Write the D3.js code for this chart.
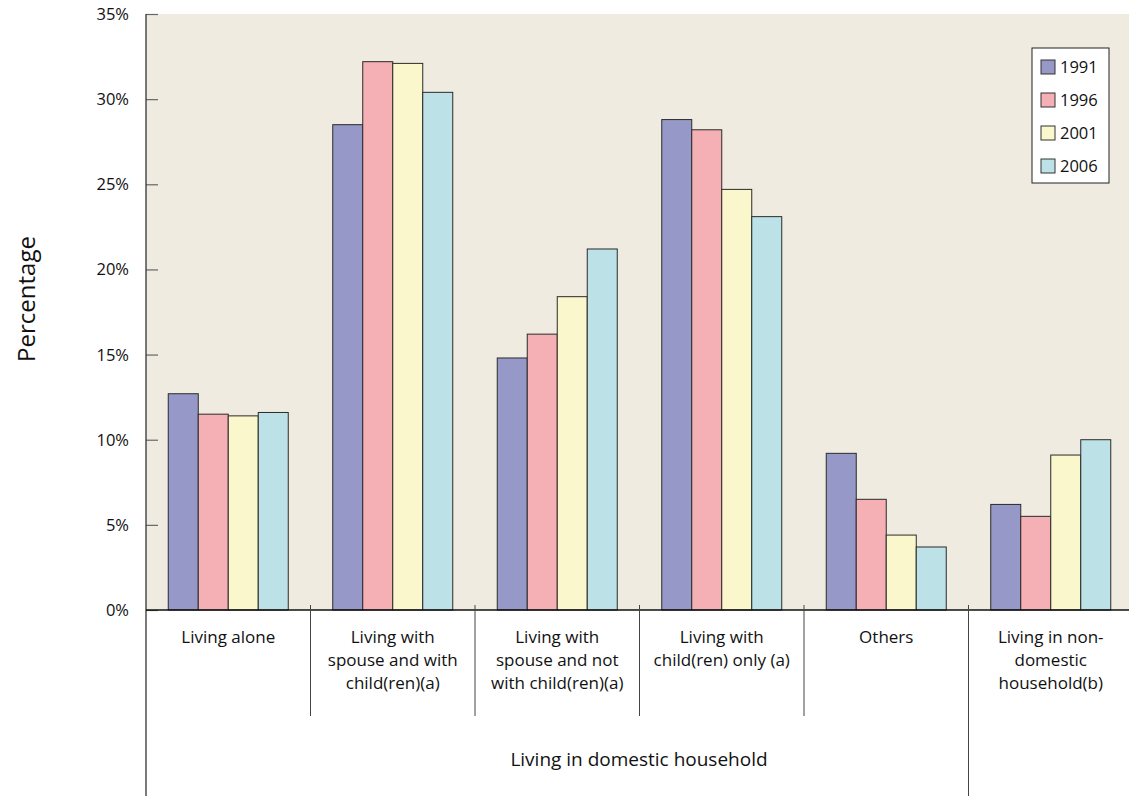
<!DOCTYPE html>
<html><head><meta charset="utf-8">
<script src="https://cdn.jsdelivr.net/npm/d3@7"></script>
<style>body{margin:0;background:#fff}svg{display:block;font-family:"Open Sans",sans-serif}</style>
</head><body><svg id="c" width="1129" height="796"></svg>
<script>
const categories = [
  ["Living alone"],
  ["Living with","spouse and with","child(ren)(a)"],
  ["Living with","spouse and not","with child(ren)(a)"],
  ["Living with","child(ren) only (a)"],
  ["Others"],
  ["Living in non-","domestic","household(b)"]
];
const years = ["1991","1996","2001","2006"];
const v1991 = [12.7, 28.5, 14.8, 28.8, 9.2, 6.2];
const v1996 = [11.5, 32.2, 16.2, 28.2, 6.5, 5.5];
const v2001 = [11.4, 32.1, 18.4, 24.7, 4.4, 9.1];
const v2006 = [11.6, 30.4, 21.2, 23.1, 3.7, 10.0];
const seriesValues = [v1991, v1996, v2001, v2006];
const colors = ["#9698c8","#f4b0b5","#f9f7cb","#bce1e7"];
const yTicks = [0,5,10,15,20,25,30,35];

const svg = d3.select("#c");
const L = 146, R = 1133, T = 14, B = 610;
const x0 = d3.scaleBand().domain(d3.range(categories.length)).range([L, R]).paddingInner(0).paddingOuter(0);
const innerW = 120;
const x1 = d3.scaleBand().domain(years).range([0, innerW]);
const y = d3.scaleLinear().domain([0,35]).range([B, T]);

svg.append("rect").attr("x", L).attr("y", T).attr("width", R-L).attr("height", B-T).attr("fill", "#efebe0");

// bars
categories.forEach((c, i) => {
  const gx = x0(i) + (x0.bandwidth() - innerW)/2;
  years.forEach((yr, j) => {
    const v = seriesValues[j][i];
    svg.append("rect")
      .attr("x", gx + x1(yr)).attr("y", y(v))
      .attr("width", x1.bandwidth()).attr("height", B - y(v))
      .attr("fill", colors[j]).attr("stroke", "#2a2a2a").attr("stroke-width", 1);
  });
});

// y axis
const yAxis = d3.axisRight(y).tickValues(yTicks).tickSize(12).tickFormat("");
const ya = svg.append("g").attr("transform", `translate(${L},0)`).call(yAxis);
ya.select(".domain").remove();
ya.selectAll("line").attr("stroke", "#666").attr("stroke-width", 1.2);
svg.append("g").selectAll("text").data(yTicks).join("text")
  .attr("x", 129).attr("y", d => y(d) + 6).attr("text-anchor", "end")
  .attr("font-size", 16.5).attr("fill", "#111").text(d => d + "%");

// axis lines
svg.append("line").attr("x1", L).attr("x2", L).attr("y1", T).attr("y2", 796).attr("stroke", "#333").attr("stroke-width", 1.3);
svg.append("line").attr("x1", L).attr("x2", 1129).attr("y1", B).attr("y2", B).attr("stroke", "#111").attr("stroke-width", 1.3);

// separators
categories.forEach((c, i) => {
  if (i === 0) return;
  svg.append("line").attr("x1", x0(i)).attr("x2", x0(i))
    .attr("y1", B - 5).attr("y2", i === 5 ? 796 : 716)
    .attr("stroke", "#444").attr("stroke-width", 1);
});

// category labels
categories.forEach((lines, i) => {
  const cx = x0(i) + x0.bandwidth()/2;
  lines.forEach((t, k) => {
    svg.append("text").attr("x", cx).attr("y", 643 + k*23).attr("text-anchor", "middle")
      .attr("font-size", 17).attr("fill", "#111").text(t);
  });
});
svg.append("text").attr("x", 639).attr("y", 766).attr("text-anchor", "middle")
  .attr("font-size", 19).attr("fill", "#111").text("Living in domestic household");

// y label
svg.append("text").attr("transform", "translate(35,299) rotate(-90)").attr("text-anchor", "middle")
  .attr("font-size", 24).attr("fill", "#111").text("Percentage");

// legend
const lg = svg.append("g");
lg.append("rect").attr("x", 1032).attr("y", 48).attr("width", 77).attr("height", 135)
  .attr("fill", "#fff").attr("stroke", "#222").attr("stroke-width", 1);
years.forEach((yr, j) => {
  const cy = 67 + j*33;
  lg.append("rect").attr("x", 1041).attr("y", cy - 7).attr("width", 14).attr("height", 14)
    .attr("fill", colors[j]).attr("stroke", "#333").attr("stroke-width", 1);
  lg.append("text").attr("x", 1060).attr("y", cy + 6).attr("font-size", 16.5).attr("fill", "#111").text(yr);
});
</script></body></html>
